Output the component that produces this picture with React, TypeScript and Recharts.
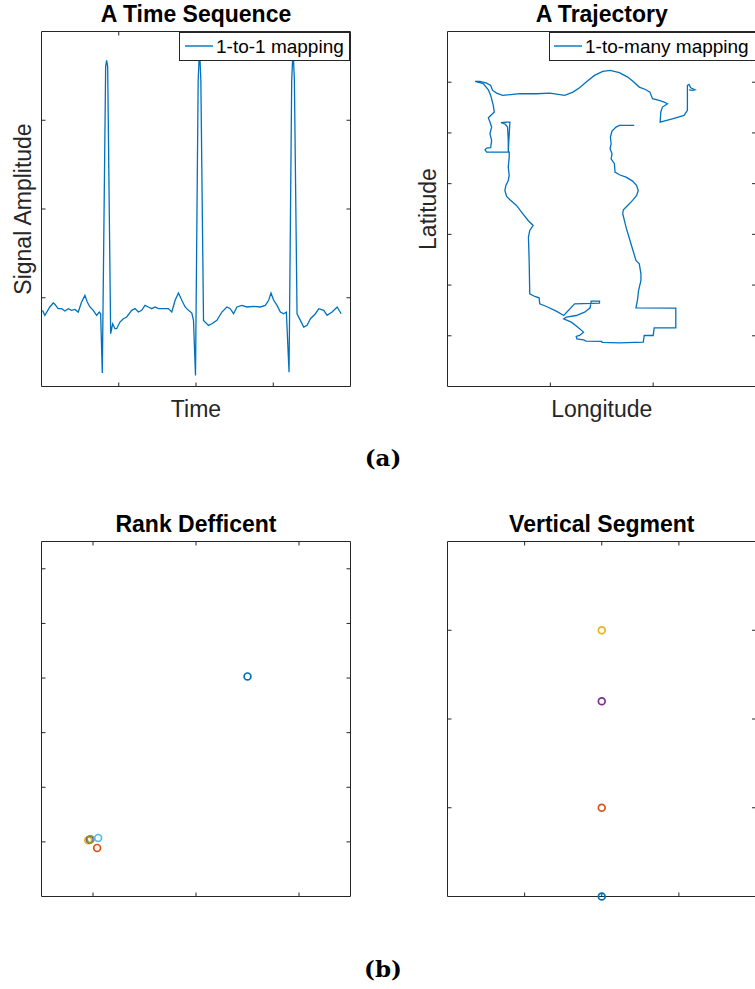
import React from "react";
import { LineChart, Line, ScatterChart, Scatter, XAxis, YAxis, Legend } from "recharts";

// (a) left: ECG-like time sequence
const ecgTime = [
  3.2, 10.8, 27, 37.8, 43.2, 54, 64.9, 75.7, 86.5, 97.3, 108.1, 118.9, 129.7, 140.5, 148.1, 156.8,
  167.6, 178.4, 187, 191.4, 196.8, 207.6, 210.8, 214.1, 223.8, 230.3, 237.8, 243.2, 254, 264.9,
  275.7, 291.9, 302.7, 313.5, 324.3, 335.1, 345.9, 356.8, 367.6, 378.4, 394.6, 410.8, 421.6, 432.4,
  443.2, 454.1, 464.9, 475.7, 486.5, 491.9, 498.4, 507, 511.4, 515.7, 524.3, 540.5, 551.4, 567.6,
  583.8, 600, 610.8, 621.6, 632.4, 648.6, 664.9, 686.5, 708.1, 724.3, 735.1, 742.7, 751.4, 762.2,
  773, 783.8, 792.4, 801.1, 809.7, 814.1, 818.4, 827, 837.8, 848.6, 859.5, 870.3, 886.5, 897.3,
  913.5, 924.3, 940.5, 956.8, 969.7,
];
const ecgAmp = [
  85.8, 80.2, 89.6, 94.1, 92.6, 87.7, 87.7, 85, 87.7, 85.8, 86.9, 83.9, 95.2, 102.7, 95.2, 89.6,
  85.8, 80.2, 83.9, 82, 15.1, 360.5, 367.6, 360.5, 59.5, 70.7, 65.1, 65.1, 72.6, 76.4,
  78.3, 85.8, 87.7, 83.9, 85.8, 91.4, 89.6, 87.7, 89.6, 87.7, 87.7, 87.7, 83.9, 97.1,
  105.4, 97.1, 89.6, 85.8, 82.8, 74.5, 12.4, 345, 380, 345, 74.5, 68.9, 70.7, 74.5,
  83.9, 89.6, 87.7, 82, 89.6, 91.4, 89.6, 90.3, 89.6, 91.4, 97.1, 105.4, 97.1, 91.4,
  83.9, 82, 83.9, 16.2, 345, 380, 345, 82, 74.5, 67, 68.9, 76.4, 82, 87.7,
  85.8, 80.2, 83.9, 89.6, 82,
];

// (a) right: trajectory, in path order
const trackLon = [
  181.6, 167.1, 163.9, 160.0, 158.4, 159.1, 158.1, 160.0, 159.1, 162.3, 162.9, 167.1, 173.6, 180.0,
  183.9, 185.5, 183.9, 180.0, 175.2, 171.0, 170.4, 173.6, 178.4, 183.3, 186.5, 188.1, 188.1, 185.8,
  184.9, 183.3, 222.0, 222.0, 201.0, 200.0, 191.3, 190.4, 167.1, 150.4, 150.0, 134.9, 132.3, 125.8,
  125.2, 128.4, 132.3, 126.8, 120.4, 113.0, 115.5, 125.2, 133.3, 138.7, 139.7, 147.8, 147.8, 123.6,
  113.0, 105.8, 96.2, 89.7, 89.1, 84.9, 80.0, 79.4, 78.7, 80.0, 83.3, 78.4, 72.0, 67.1, 60.7, 57.5,
  55.8, 56.8, 59.1, 60.0, 59.1, 60.0, 60.0, 59.1, 60.7, 57.5, 52.0, 55.8, 58.4, 59.1, 59.1, 38.1,
  36.5, 38.1, 42.0, 42.9, 41.3, 42.9, 41.3, 39.7, 42.0, 45.5, 44.5, 42.0, 39.7, 34.9, 26.8, 31.6,
  38.1, 42.0, 43.9, 47.8, 53.6, 70.4, 86.5, 99.4, 113.9, 122.0, 128.4, 134.9, 142.9, 151.0, 158.1,
  167.1, 175.2, 180.0, 186.5, 193.0, 196.8, 199.4, 205.8, 210.7, 213.9, 209.0, 207.4, 206.8, 218.7,
  230.0, 233.3, 233.3, 233.3, 234.9, 236.5, 240.7, 238.1, 234.9,
];
const trackLat = [
  514.8, 514.8, 511.5, 503.6, 491.8, 478.6, 468.8, 458.9, 449.0, 439.2, 422.7, 417.5, 412.9, 405.0,
  396.4, 386.6, 376.7, 366.9, 357.0, 348.5, 340.6, 314.3, 281.4, 248.5, 241.9, 222.2, 209.1, 189.3,
  172.9, 155.2, 154.5, 115.7, 115.7, 100.6, 100.6, 87.4, 86.1, 86.8, 88.8, 89.4, 92.0, 94.0,
  98.6, 100.6, 107.2, 117.0, 126.9, 133.5, 136.8, 140.0, 146.6, 155.2, 168.3, 168.3, 164.4, 163.1,
  140.0, 148.6, 157.8, 163.1, 174.9, 177.5, 182.8, 248.5, 294.5, 307.7, 317.6, 327.4, 343.9, 357.0,
  368.2, 374.8, 386.6, 396.4, 406.3, 416.2, 432.6, 452.3, 462.2, 465.5, 521.4, 521.4, 520.1, 518.1,
  511.5, 485.2, 462.2, 462.2, 466.8, 470.1, 470.8, 485.2, 498.4, 511.5, 521.4, 529.9, 534.5, 541.1,
  554.2, 574.0, 585.1, 597.0, 601.6, 601.6, 598.3, 593.7, 583.8, 578.6, 574.0, 577.3, 577.3, 578.6,
  574.0, 580.5, 589.1, 600.3, 613.4, 621.3, 623.3, 618.7, 610.1, 602.2, 590.4, 585.1, 580.5, 567.4,
  564.1, 560.8, 557.5, 551.0, 541.1, 521.4, 527.9, 534.5, 544.4, 577.3, 593.7, 595.7, 589.1, 585.1,
  583.8, 585.1,
];

// (b) left: rank deficient points
const rankX = [1.5, 0.04, -0.047, -0.03, -0.023, 0.05];
const rankY = [3.03, -0.11, 0.03, 0.044, 0.05, 0.073];

// (b) right: points on a vertical segment
const vertX = [0, 0, 0, 0];
const vertY = [0, 1, 3, 2.2];

// matlab default colour order
const palette = ["#0072BD", "#D95319", "#EDB120", "#7E2F8E", "#77AC30", "#4DBEEE"];

const sans = "'Liberation Sans', Arial, Helvetica, sans-serif";
const axisStroke = { stroke: "#262626", strokeWidth: 1 };

const ecgData = ecgTime.map((t, i) => ({ x: t, y: ecgAmp[i] }));
const trackData = trackLon.slice(0, trackLat.length).map((lon, i) => ({ x: lon, y: trackLat[i] }));
const rankData = rankX.map((x, i) => ({ x, y: rankY[i] }));
const vertData = vertX.map((x, i) => ({ x, y: vertY[i] }));

const titleLabel = (text: string) => ({
  value: text,
  position: "top" as const,
  offset: 10,
  fontSize: 23,
  fontWeight: 700,
  fill: "#000",
  fontFamily: sans,
});

const xLabel = (text: string) => ({
  value: text,
  position: "bottom" as const,
  offset: 14,
  fontSize: 23,
  fill: "#262626",
  fontFamily: sans,
});

const yLabel = (text: string, offset: number) => ({
  value: text,
  position: "left" as const,
  angle: -90,
  offset,
  textAnchor: "middle",
  fontSize: 23,
  fill: "#262626",
  fontFamily: sans,
});

// box with inward ticks on all four sides, no tick labels.
// the data axes (b / l) don't clip, so markers sitting on the edge stay whole
function boxAxes(
  xDomain: number[],
  xTicks: number[],
  yDomain: number[],
  yTicks: number[],
  labels: { title: any; x?: any; y?: any }
) {
  const common = {
    type: "number" as const,
    mirror: true,
    tick: { fontSize: 0, fill: "none" },
    tickFormatter: () => "",
    tickSize: 4,
    tickMargin: 0,
    interval: 0 as const,
    axisLine: axisStroke,
    tickLine: axisStroke,
  };
  return [
    <XAxis key="xb" xAxisId="b" orientation="bottom" dataKey="x" domain={xDomain} ticks={xTicks} height={1} label={labels.x} {...common} />,
    <XAxis key="xt" xAxisId="t" orientation="top" dataKey="x" domain={xDomain} ticks={xTicks} height={1} label={labels.title} allowDataOverflow {...common} />,
    <YAxis key="yl" yAxisId="l" orientation="left" dataKey="y" domain={yDomain} ticks={yTicks} width={1} label={labels.y} {...common} />,
    <YAxis key="yr" yAxisId="r" orientation="right" dataKey="y" domain={yDomain} ticks={yTicks} width={1} allowDataOverflow {...common} />,
  ];
}

const legendBox = (padLeft: number) => (props: any) => {
  const item = (props.payload || []).find((p: any) => p.type !== "none");
  return (
    <div
      style={{
        boxSizing: "border-box",
        width: "100%",
        height: "100%",
        background: "#fff",
        border: "1px solid #262626",
        display: "flex",
        alignItems: "center",
        paddingLeft: padLeft,
      }}
    >
      <svg width={28} height={4} style={{ marginRight: 3, flex: "none" }}>
        <line x1={0} y1={2} x2={28} y2={2} stroke={item ? item.color : "#0072BD"} strokeWidth={1.4} />
      </svg>
      <span style={{ fontFamily: sans, fontSize: 19, color: "#000", whiteSpace: "nowrap", lineHeight: 1 }}>
        {item ? item.value : ""}
      </span>
    </div>
  );
};

const ring = (color: string) => (p: any) => (
  <circle cx={p.cx} cy={p.cy} r={3.4} fill="none" stroke={color} strokeWidth={1.7} />
);
const blank = () => <g />;

export default function App() {
  return (
    <div
      style={{
        position: "absolute",
        left: 0,
        top: 0,
        width: 755,
        height: 989,
        overflow: "hidden",
        background: "#fff",
      }}
    >
      <div style={{ position: "absolute", left: 0, top: 0 }}>
        <LineChart width={380} height={430} data={ecgData} margin={{ top: 31.5, left: 41.5, right: 29.5, bottom: 43.5 }}>
          {boxAxes([0, 1000], [250, 500, 750], [0, 400], [100, 200, 300], {
            title: titleLabel("A Time Sequence"),
            x: xLabel("Time"),
            y: yLabel("Signal Amplitude", 19),
          })}
          {/* hidden twin keeps the top / right axes in use */}
          <Line xAxisId="t" yAxisId="r" dataKey="y" stroke="none" dot={false} legendType="none" isAnimationActive={false} />
          <Line
            xAxisId="b"
            yAxisId="l"
            type="linear"
            dataKey="y"
            name="1-to-1 mapping"
            stroke="#0072BD"
            strokeWidth={1.3}
            dot={false}
            isAnimationActive={false}
          />
          <Legend
            layout="vertical"
            align="center"
            verticalAlign="middle"
            wrapperStyle={{ top: 31.5, left: 179, width: 171, height: 29 }}
            content={legendBox(5)}
          />
        </LineChart>
      </div>

      <div style={{ position: "absolute", left: 380, top: 0 }}>
        <LineChart width={400} height={430} data={trackData} margin={{ top: 31.5, left: 67.5, right: 24, bottom: 43.5 }}>
          {boxAxes([0, 300], [100, 200], [0, 700], [100, 200, 300, 400, 500, 600], {
            title: titleLabel("A Trajectory"),
            x: xLabel("Longitude"),
            y: yLabel("Latitude", 20),
          })}
          <Line xAxisId="t" yAxisId="r" dataKey="y" stroke="none" dot={false} legendType="none" isAnimationActive={false} />
          <Line
            xAxisId="b"
            yAxisId="l"
            type="linear"
            dataKey="y"
            name="1-to-many mapping"
            stroke="#0072BD"
            strokeWidth={1.3}
            dot={false}
            isAnimationActive={false}
          />
          <Legend
            layout="vertical"
            align="center"
            verticalAlign="middle"
            wrapperStyle={{ top: 31.5, left: 169, width: 215, height: 29 }}
            content={legendBox(4)}
          />
        </LineChart>
      </div>

      <div style={{ position: "absolute", left: 0, top: 500 }}>
        <ScatterChart width={380} height={430} margin={{ top: 41.5, left: 41.5, right: 29.5, bottom: 33.5 }}>
          {boxAxes([-0.5, 2.5], [0, 1, 2], [-1, 5.5], [0, 1, 2, 3, 4, 5], {
            title: titleLabel("Rank Defficent"),
          })}
          <Scatter xAxisId="t" yAxisId="r" data={rankData} shape={blank} legendType="none" isAnimationActive={false} />
          {rankData.map((pt, i) => (
            <Scatter key={i} xAxisId="b" yAxisId="l" data={[pt]} shape={ring(palette[i])} isAnimationActive={false} />
          ))}
        </ScatterChart>
      </div>

      <div style={{ position: "absolute", left: 380, top: 500 }}>
        <ScatterChart width={400} height={430} margin={{ top: 41.5, left: 67.5, right: 24, bottom: 33.5 }}>
          {boxAxes([-2, 2], [-1, 0, 1], [0, 4], [1, 2, 3], {
            title: titleLabel("Vertical Segment"),
          })}
          <Scatter xAxisId="t" yAxisId="r" data={vertData} shape={blank} legendType="none" isAnimationActive={false} />
          {vertData.map((pt, i) => (
            <Scatter key={i} xAxisId="b" yAxisId="l" data={[pt]} shape={ring(palette[i])} isAnimationActive={false} />
          ))}
        </ScatterChart>
      </div>

      <svg width={755} height={989} style={{ position: "absolute", left: 0, top: 0, pointerEvents: "none" }}>
        <text x={383} y={466} textAnchor="middle" fontFamily="'DejaVu Serif', serif" fontWeight={700} fontSize={23}>
          (a)
        </text>
        <text x={383} y={977} textAnchor="middle" fontFamily="'DejaVu Serif', serif" fontWeight={700} fontSize={23}>
          (b)
        </text>
      </svg>
    </div>
  );
}
